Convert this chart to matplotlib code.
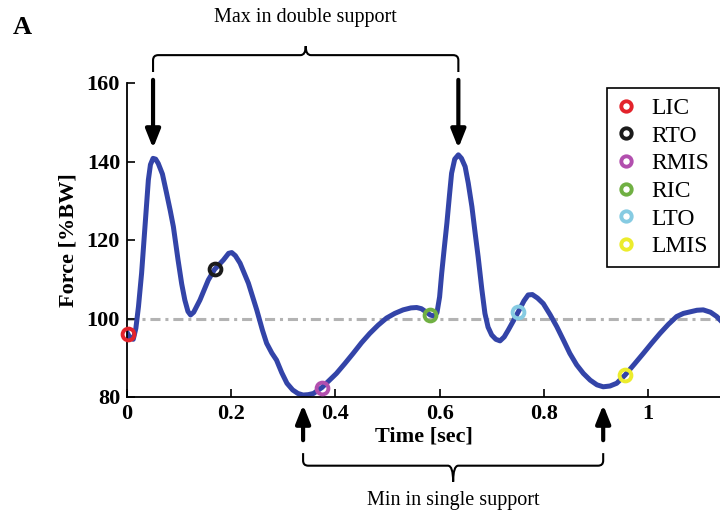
import numpy as np
import matplotlib
matplotlib.use("Agg")
import matplotlib.pyplot as plt
from matplotlib.path import Path
from matplotlib.patches import PathPatch

plt.rcParams['font.family'] = ['Liberation Serif', 'DejaVu Serif']

# Vertical ground reaction force over one gait cycle
time_s = [0.000, 0.006, 0.012, 0.017, 0.022, 0.028, 0.035, 0.041, 0.045, 0.050,
          0.055, 0.060, 0.068, 0.076, 0.083, 0.089, 0.098, 0.105, 0.111, 0.117,
          0.122, 0.128, 0.140, 0.156, 0.168, 0.185, 0.195, 0.201, 0.208, 0.217,
          0.233, 0.249, 0.260, 0.268, 0.278, 0.287, 0.297, 0.307, 0.318, 0.328,
          0.338, 0.348, 0.358, 0.374, 0.388, 0.402, 0.418, 0.434, 0.450, 0.466,
          0.482, 0.498, 0.514, 0.530, 0.545, 0.556, 0.565, 0.575, 0.582, 0.590,
          0.595, 0.600, 0.604, 0.609, 0.614, 0.619, 0.623, 0.629, 0.636, 0.642,
          0.649, 0.655, 0.662, 0.668, 0.674, 0.681, 0.687, 0.693, 0.700, 0.708,
          0.716, 0.724, 0.732, 0.742, 0.751, 0.762, 0.770, 0.778, 0.788, 0.799,
          0.812, 0.825, 0.838, 0.850, 0.863, 0.876, 0.889, 0.902, 0.914, 0.927,
          0.940, 0.956, 0.974, 0.991, 1.007, 1.023, 1.039, 1.055, 1.068, 1.081,
          1.094, 1.106, 1.120, 1.132, 1.140]
force_bw = [96.5, 95.0, 94.7, 97.5, 103.0, 111.5, 124.3, 135.3, 139.2, 140.8,
            140.6, 139.5, 136.8, 131.9, 127.5, 123.4, 114.9, 108.8, 104.7, 101.8,
            100.9, 101.6, 104.7, 109.8, 112.5, 114.9, 116.6, 116.8, 116.0, 114.1,
            109.0, 102.2, 97.0, 93.7, 91.2, 89.4, 86.2, 83.5, 81.8, 80.9,
            80.5, 80.6, 80.9, 82.4, 84.2, 86.0, 88.5, 91.1, 93.8, 96.2,
            98.3, 100.1, 101.3, 102.2, 102.7, 102.8, 102.5, 101.6, 100.9, 100.6,
            101.5, 105.5, 111.5, 118.0, 124.3, 131.5, 137.0, 140.6, 141.7, 140.8,
            138.7, 134.5, 128.5, 122.0, 115.7, 107.5, 101.3, 97.8, 95.8, 94.7,
            94.3, 95.3, 97.1, 99.5, 101.7, 104.5, 106.0, 106.1, 105.2, 103.8,
            101.0, 97.9, 94.4, 91.1, 88.2, 86.0, 84.3, 83.1, 82.6, 82.8,
            83.5, 85.6, 88.4, 91.1, 93.7, 96.2, 98.5, 100.5, 101.3, 101.7,
            102.1, 102.2, 101.6, 100.5, 99.4]

# Gait events
event_names = ['LIC', 'RTO', 'RMIS', 'RIC', 'LTO', 'LMIS']
event_time = [0.001, 0.168, 0.374, 0.582, 0.751, 0.956]
event_force = [96.0, 112.5, 82.4, 100.9, 101.7, 85.6]
event_colors = ['#E3232B', '#1B1B1B', '#B24FAE', '#70B043', '#86CBE2', '#ECEC2C']

body_weight = 100

t = np.array(time_s)
f = np.array(force_bw)

fig = plt.figure(figsize=(7.2, 5.12), dpi=100)
ax = fig.add_axes([127 / 720, 115 / 512, 593 / 720, 314 / 512])

ax.axhline(body_weight, color='#B3B3B3', lw=2.2, ls=(0, (3.3, 1.6, 1.0, 1.6)), zorder=1)
ax.plot(t, f, color='#3344A8', lw=3.6, solid_joinstyle='round', zorder=2)

for name, et, ef, c in zip(event_names, event_time, event_force, event_colors):
    ax.plot(et, ef, 'o', mfc='none', mec=c, mew=2.8, ms=8.5, label=name, zorder=3,
            clip_on=False)

ax.set_xlim(0, 593 / 521)
ax.set_ylim(80, 160)
ax.set_xticks([0, 0.2, 0.4, 0.6, 0.8, 1])
ax.set_xticklabels(['0', '0.2', '0.4', '0.6', '0.8', '1'])
ax.set_yticks([80, 100, 120, 140, 160])
ax.tick_params(direction='in', length=6, width=1.2, labelsize=16, pad=5)
for lbl in ax.get_xticklabels() + ax.get_yticklabels():
    lbl.set_fontweight('bold')
for s in ['top', 'right']:
    ax.spines[s].set_visible(False)
for s in ['left', 'bottom']:
    ax.spines[s].set_linewidth(1.3)

ax.set_xlabel('Time [sec]', fontsize=16, fontweight='bold', labelpad=2)
ax.set_ylabel('Force [%BW]', fontsize=16, fontweight='bold', labelpad=6)

leg = ax.legend(loc='upper right', bbox_to_anchor=(0.998, 0.984), borderaxespad=0,
                fontsize=17, handlelength=0.8, handletextpad=0.7,
                labelspacing=0.26, borderpad=0.4, fancybox=False, framealpha=1,
                edgecolor='black', markerscale=0.88)
leg.get_frame().set_linewidth(1.2)

# peaks in double support and minima in single support
first = t < 0.3
second = (t > 0.5) & (t < 0.7)
peak_t = [t[first][np.argmax(f[first])], t[second][np.argmax(f[second])]]
w1 = (t > 0.25) & (t < 0.5)
w2 = (t > 0.8) & (t < 1.0)
min_t = [t[w1][np.argmin(f[w1])], t[w2][np.argmin(f[w2])]]

arrow = dict(arrowstyle='-|>,head_length=0.55,head_width=0.22', lw=3,
             color='black', mutation_scale=20, shrinkA=0, shrinkB=0)
for pt in peak_t:
    ax.annotate('', xy=(pt, 143.4), xytext=(pt, 160.8), arrowprops=arrow,
                annotation_clip=False)
for mt in min_t:
    ax.annotate('', xy=(mt, 78.0), xytext=(mt, 69.0), arrowprops=arrow,
                annotation_clip=False)


def brace(x0, x1, y_end, y_bar, y_tip, rx, ry):
    d = np.sign(y_bar - y_end)
    xm = (x0 + x1) / 2
    verts = [(x0, y_end), (x0, y_bar - d * ry), (x0, y_bar), (x0 + rx, y_bar),
             (xm - rx, y_bar), (xm, y_bar), (xm, y_tip), (xm, y_bar), (xm + rx, y_bar),
             (x1 - rx, y_bar), (x1, y_bar), (x1, y_bar - d * ry), (x1, y_end)]
    codes = [Path.MOVETO, Path.LINETO, Path.CURVE3, Path.CURVE3,
             Path.LINETO, Path.CURVE3, Path.CURVE3, Path.CURVE3, Path.CURVE3,
             Path.LINETO, Path.CURVE3, Path.CURVE3, Path.LINETO]
    ax.add_patch(PathPatch(Path(verts, codes), fc='none', ec='black', lw=1.5,
                           clip_on=False))
    return xm


xm = brace(peak_t[0], peak_t[1], 162.8, 167.1, 169.4, 0.01, 1.3)
ax.text(xm, 176.6, 'Max in double support', ha='center', va='center',
        fontsize=14.5)
xm = brace(min_t[0], min_t[1], 65.7, 62.5, 58.4, 0.01, 1.3)
ax.text(xm, 53.6, 'Min in single support', ha='center', va='center',
        fontsize=14.5)

fig.text(13 / 720, 1 - 27 / 512, 'A', fontsize=19, fontweight='bold',
         ha='left', va='center')

fig.savefig('out.png', dpi=100)
